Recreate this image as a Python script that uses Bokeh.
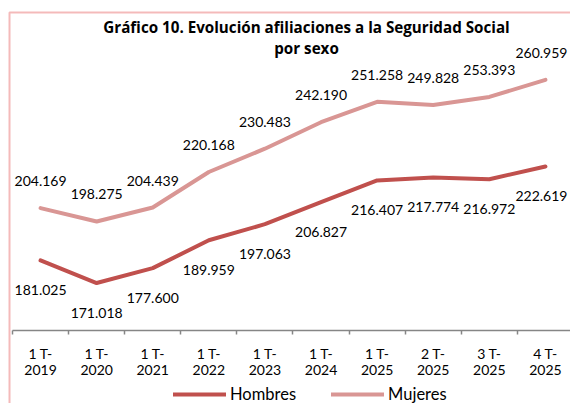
from bokeh.plotting import figure
from bokeh.models import Range1d, FixedTicker, Legend, LegendItem, Label, BoxAnnotation
from bokeh.core.properties import value
from bokeh.embed import file_html
from bokeh.resources import INLINE

# ---- data ----
categories = ["1 T-\n2019", "1 T-\n2020", "1 T-\n2021", "1 T-\n2022", "1 T-\n2023",
              "1 T-\n2024", "1 T-\n2025", "2 T-\n2025", "3 T-\n2025", "4 T-\n2025"]
hombres = [181025, 171018, 177600, 189959, 197063, 206827, 216407, 217774, 216972, 222619]
mujeres = [204169, 198275, 204439, 220168, 230483, 242190, 251258, 249828, 253393, 260959]
hombres_labels = ["181.025", "171.018", "177.600", "189.959", "197.063",
                  "206.827", "216.407", "217.774", "216.972", "222.619"]
mujeres_labels = ["204.169", "198.275", "204.439", "220.168", "230.483",
                  "242.190", "251.258", "249.828", "253.393", "260.959"]
title_lines = ["Gráfico 10. Evolución afiliaciones a la Seguridad Social", "por sexo"]
y_axis_min = 150000

xs = list(range(len(categories)))

C_H = "#C0504D"
C_M = "#D99694"
FONT = "Lato"

p = figure(width=570, height=403, output_backend="svg", toolbar_location=None,
           x_range=Range1d(-0.7139, 9.447), y_range=Range1d(117685, 296082),
           min_border=0, y_axis_location=None)
p.outline_line_color = None
p.xgrid.visible = False
p.ygrid.visible = False
p.background_fill_color = "white"
p.border_fill_color = "white"

# chart-area border (left and top edges visible)
p.add_layout(BoxAnnotation(left=-0.5535, top=290770, right=20, bottom=100000,
                           fill_alpha=0, line_color="#d91c1c", line_width=2))

ax = p.xaxis[0]
ax.fixed_location = y_axis_min
ax.bounds = (-0.5, 9.5)
ax.ticker = FixedTicker(ticks=xs, minor_ticks=[i - 0.5 for i in range(len(categories) + 1)])
ax.major_label_overrides = {i: c for i, c in zip(xs, categories)}
ax.axis_line_color = "#868686"
ax.axis_line_width = 1.5
ax.major_tick_line_color = None
ax.major_tick_out = 4
ax.major_tick_in = 0
ax.minor_tick_line_color = "#868686"
ax.minor_tick_line_width = 1.5
ax.minor_tick_out = 4
ax.minor_tick_in = 0
ax.major_label_standoff = 10
ax.major_label_text_font = FONT
ax.major_label_text_font_size = "14px"
ax.major_label_text_color = "#000000"
ax.major_label_text_line_height = 0.95

r_h = p.line(xs, hombres, line_width=4, line_color=C_H, line_join="round", line_cap="round")
r_m = p.line(xs, mujeres, line_width=4, line_color=C_M, line_join="round", line_cap="round")

x_off = [0] * (len(xs) - 1) + [-4]
p.text(x=xs, y=mujeres, text=mujeres_labels, text_align="center", text_baseline="middle",
       x_offset=x_off, y_offset=-27, text_font=value(FONT), text_font_size="14px",
       text_color="#000000")
p.text(x=xs, y=hombres, text=hombres_labels, text_align="center", text_baseline="middle",
       x_offset=x_off, y_offset=30, text_font=value(FONT), text_font_size="14px",
       text_color="#000000")

# title
for txt, yy in zip(title_lines, [284130, 275276]):
    p.add_layout(Label(x=4.741, y=yy, text=txt, text_align="center", text_baseline="middle",
                       text_font="Open Sans", text_font_style="bold", text_font_size="15.2px",
                       text_color="#000000"))

legend = Legend(items=[LegendItem(label="Hombres", renderers=[r_h]),
                       LegendItem(label="Mujeres", renderers=[r_m])],
                orientation="horizontal", location=(173, -1),
                glyph_width=53, glyph_height=16, label_standoff=4, spacing=35,
                label_text_font=FONT, label_text_font_size="16.5px", label_text_color="#000000",
                margin=0, padding=0, border_line_color=None, background_fill_alpha=0)
p.add_layout(legend, "center")

open("out.html", "w").write(file_html(p, INLINE))
